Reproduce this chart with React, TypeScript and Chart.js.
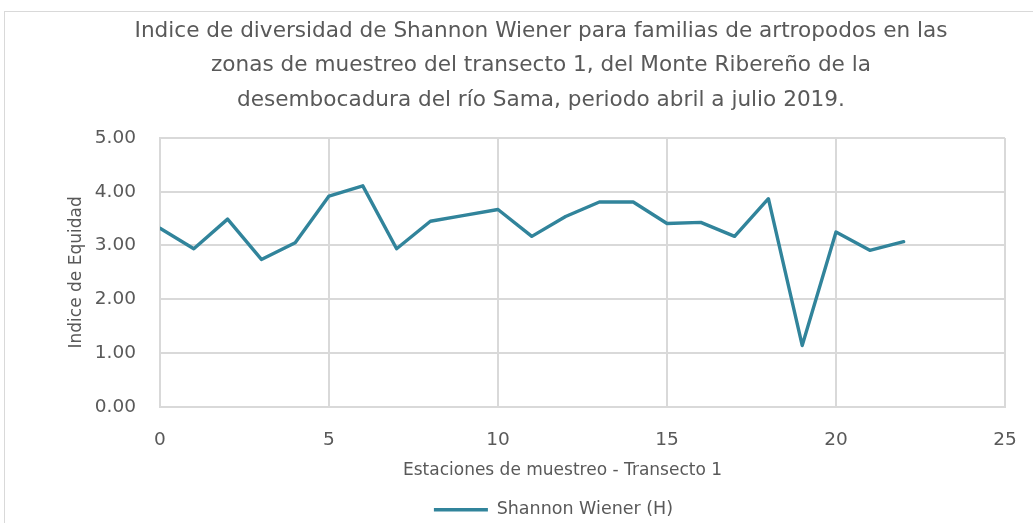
import React, { useEffect, useRef } from "react";
import { Chart, registerables } from "chart.js";

Chart.register(...registerables);

const stations = [0, 1, 2, 3, 4, 5, 6, 7, 8, 9, 10, 11, 12, 13, 14, 15, 16, 17, 18, 19, 20, 21, 22];
const shannonValues = [3.32, 2.94, 3.49, 2.74, 3.05, 3.92, 4.11, 2.94, 3.45, 3.56, 3.67, 3.17, 3.54, 3.81, 3.81, 3.41, 3.43, 3.17, 3.87, 1.14, 3.25, 2.91, 3.07];
const titleLines = [
  "Indice de diversidad de Shannon Wiener para familias de artropodos en las",
  "zonas de muestreo del transecto 1, del Monte Ribereño de la",
  "desembocadura del río Sama, periodo abril a julio 2019.",
];
const seriesName = "Shannon Wiener (H)";
const xAxisTitle = "Estaciones de muestreo - Transecto 1";
const yAxisTitle = "Indice de Equidad";
const xTickStep = 5;
const yTickStep = 1;

const FONT = "'DejaVu Sans', sans-serif";
const LINE_COLOR = "#31849B";
const TEXT_COLOR = "#595959";
const GRID_COLOR = "#d9d9d9";

// horizontal nudges so title / legend / x-title sit where the reference has them
const TITLE_SHIFT = 38.5;
const LEGEND_SHIFT = 51;
const XTITLE_SHIFT = -20;

const shiftPlugin = {
  id: "shiftBlocks",
  afterLayout(chart: any) {
    if (chart.titleBlock) {
      chart.titleBlock.left += TITLE_SHIFT;
      chart.titleBlock.right += TITLE_SHIFT;
    }
    if (chart.legend) {
      chart.legend.left += LEGEND_SHIFT;
      chart.legend.right += LEGEND_SHIFT;
    }
  },
};

export default function App() {
  const canvasRef = useRef<HTMLCanvasElement | null>(null);

  useEffect(() => {
    if (!canvasRef.current) return;
    const chart = new Chart(canvasRef.current, {
      type: "line",
      data: {
        datasets: [
          {
            label: seriesName,
            data: stations.map((x, i) => ({ x, y: shannonValues[i] })),
            borderColor: LINE_COLOR,
            backgroundColor: LINE_COLOR,
            borderWidth: 3.4,
            pointRadius: 0,
            tension: 0,
            borderJoinStyle: "round",
            borderCapStyle: "round",
          },
        ],
      },
      plugins: [shiftPlugin],
      options: {
        animation: false,
        responsive: false,
        maintainAspectRatio: false,
        layout: { padding: { left: 0, right: 28, top: 0, bottom: -5.5 } },
        plugins: {
          title: {
            display: true,
            text: titleLines,
            color: TEXT_COLOR,
            font: { family: FONT, size: 21.6, weight: "normal", lineHeight: 1.6 },
            padding: { top: 14, bottom: 20.3 },
          },
          legend: {
            display: true,
            position: "bottom",
            labels: {
              color: TEXT_COLOR,
              font: { family: FONT, size: 17.5 },
              boxWidth: 54,
              boxHeight: 3.5,
              padding: 5.25,
              generateLabels: (c: any) => {
                const items = Chart.defaults.plugins.legend.labels.generateLabels(c);
                return items.map((it: any) => ({ ...it, lineWidth: 0, fillStyle: LINE_COLOR }));
              },
            },
          },
          tooltip: { enabled: false },
        },
        scales: {
          x: {
            type: "linear",
            min: 0,
            max: 25,
            ticks: {
              stepSize: xTickStep,
              color: TEXT_COLOR,
              font: { family: FONT, size: 18.5 },
              padding: 22,
            },
            grid: { color: GRID_COLOR, lineWidth: 2, drawTicks: false },
            border: { color: GRID_COLOR, width: 2 },
            title: {
              display: true,
              text: xAxisTitle,
              color: TEXT_COLOR,
              font: { family: FONT, size: 17 },
              padding: { top: 4, bottom: 14.8 },
            },
            afterFit: (scale: any) => {
              scale.height = 89;
              scale.paddingRight = 0;
              if (!scale.__shifted) {
                const proto = Object.getPrototypeOf(scale);
                scale.drawTitle = function (...args: any[]) {
                  this.left += XTITLE_SHIFT;
                  this.right += XTITLE_SHIFT;
                  try {
                    proto.drawTitle.apply(this, args);
                  } finally {
                    this.left -= XTITLE_SHIFT;
                    this.right -= XTITLE_SHIFT;
                  }
                };
                scale.__shifted = true;
              }
            },
          },
          y: {
            type: "linear",
            min: 0,
            max: 5,
            ticks: {
              stepSize: yTickStep,
              color: TEXT_COLOR,
              font: { family: FONT, size: 18.5 },
              padding: 24,
              callback: (v: any) => Number(v).toFixed(2),
            },
            grid: { color: GRID_COLOR, lineWidth: 2, drawTicks: false },
            border: { color: GRID_COLOR, width: 2 },
            title: {
              display: true,
              text: yAxisTitle,
              color: TEXT_COLOR,
              font: { family: FONT, size: 17 },
              padding: { top: 66, bottom: 0 },
            },
            afterFit: (scale: any) => {
              scale.width = 160;
            },
          },
        },
      },
    });
    return () => chart.destroy();
  }, []);

  return (
    <div style={{ position: "fixed", left: 0, top: 0, width: 1033, height: 523, background: "#fff", overflow: "hidden" }}>
      <div
        style={{
          position: "absolute",
          left: 4,
          top: 11,
          width: 1100,
          height: 700,
          border: "1px solid #d9d9d9",
          boxSizing: "border-box",
        }}
      />
      <canvas ref={canvasRef} width={1033} height={523} style={{ position: "absolute", left: 0, top: 0 }} />
    </div>
  );
}
